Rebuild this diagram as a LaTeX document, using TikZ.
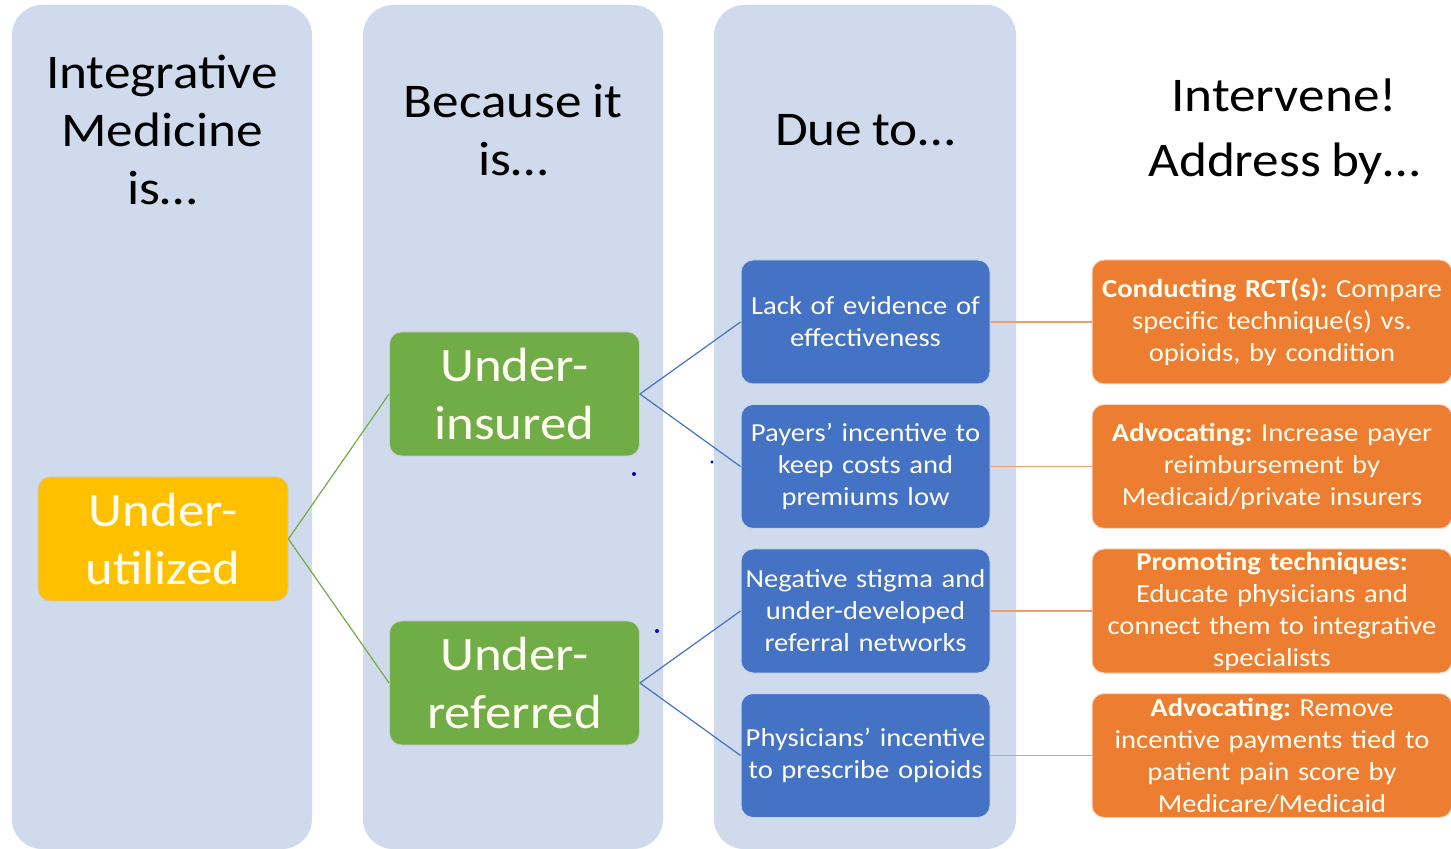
\documentclass[tikz,border=0pt]{standalone}
\usepackage{fontspec}
\setmainfont{Carlito}[FakeStretch=1.1,WordSpace=0.85]
\definecolor{colbg}{RGB}{207,218,237}
\definecolor{yel}{RGB}{255,192,0}
\definecolor{grn}{RGB}{112,173,71}
\definecolor{blu}{RGB}{68,114,196}
\definecolor{org}{RGB}{237,125,49}
\definecolor{txt}{RGB}{255,253,240}
\begin{document}
\begin{tikzpicture}[x=0.5pt,y=-0.5pt,
  column/.style={fill=colbg,rounded corners=15pt},
  header/.style={align=center,text=black,font=\fontsize{24.2}{29}\selectfont},
  bigbox/.style={rounded corners=6pt,draw=white!80!black,line width=0.4pt,minimum width=125pt,minimum height=62pt,align=center,text=txt,font=\fontsize{24}{29}\selectfont,inner sep=0pt},
  bluebox/.style={rounded corners=6pt,fill=blu,draw=white!70!blu,line width=0.5pt,minimum width=124.5pt,minimum height=62pt,text width=123pt,align=center,text=txt,font=\fontsize{13}{16}\selectfont,inner sep=0pt},
  orgbox/.style={rounded corners=6pt,fill=org,draw=white!70!org,line width=0.5pt,minimum width=180pt,minimum height=62pt,text width=178pt,align=center,text=txt,font=\fontsize{13}{16}\selectfont,inner sep=0pt},
  gline/.style={draw=grn,line width=0.6pt},
  bline/.style={draw=blu,line width=0.6pt},
  oline/.style={draw=org!75!white,line width=0.8pt},
  dot/.style={fill=blue!80!black,draw=none}
]
\useasboundingbox (0,0) rectangle (1451,849);
\clip (0,0) rectangle (1451,849);
\fill[white] (0,0) rectangle (1451,849);
% columns
\fill[column] (12,5) rectangle (312,849);
\fill[column] (363,5) rectangle (663,849);
\fill[column] (714,5) rectangle (1016,849);
% headers
\node[header] (h1) at (162,130) {Integrative\\Medicine\\is…};
\node[header] (h2) at (513,130) {Because it\\is…};
\node[header] (h3) at (865,130) {Due to…};
\node[header,font=\fontsize{24.2}{32.5}\selectfont] (h4) at (1284,132) {Intervene!\\Address by…};
% level 1-2
\node[bigbox,fill=yel] (util) at (163,539) {Under-\\utilized};
\node[bigbox,fill=grn] (ins) at (514.5,394) {Under-\\insured};
\node[bigbox,fill=grn] (ref) at (514.5,683) {Under-\\referred};
% blue boxes
\node[bluebox] (b1) at (865.5,322) {Lack of evidence of\\effectiveness};
\node[bluebox] (b2) at (865.5,466.5) {Payers’ incentive to\\keep costs and\\premiums low};
\node[bluebox] (b3) at (865.5,611) {Negative stigma and\\under-developed\\referral networks};
\node[bluebox] (b4) at (865.5,755.5) {Physicians’ incentive\\to prescribe opioids};
% orange boxes
\node[orgbox] (o1) at (1272,322) {\textbf{Conducting RCT(s):}~Compare\\specific technique(s) vs.\\opioids, by condition};
\node[orgbox] (o2) at (1272,466.5) {\textbf{Advocating:}~Increase payer\\reimbursement by\\Medicaid/private insurers};
\node[orgbox] (o3) at (1272,611) {\textbf{Promoting techniques:}\\Educate physicians and\\connect them to integrative\\specialists};
\node[orgbox] (o4) at (1272,755.5) {\textbf{Advocating:}~Remove\\incentive payments tied to\\patient pain score by\\Medicare/Medicaid};
% connectors
\draw[gline] (util.east) -- (ins.west);
\draw[gline] (util.east) -- (ref.west);
\draw[bline] (ins.east) -- (b1.west);
\draw[bline] (ins.east) -- (b2.west);
\draw[bline] (ref.east) -- (b3.west);
\draw[bline] (ref.east) -- (b4.west);
\draw[oline] (b1.east) -- (o1.west);
\draw[oline] (b2.east) -- (o2.west);
\draw[oline] (b3.east) -- (o3.west);
\draw[oline] (b4.east) -- (o4.west);
% stray dots
\fill[dot] (634,474) circle (1pt);
\fill[dot] (712,462) circle (0.8pt);
\fill[dot] (657,631) circle (1pt);
\end{tikzpicture}
\end{document}
